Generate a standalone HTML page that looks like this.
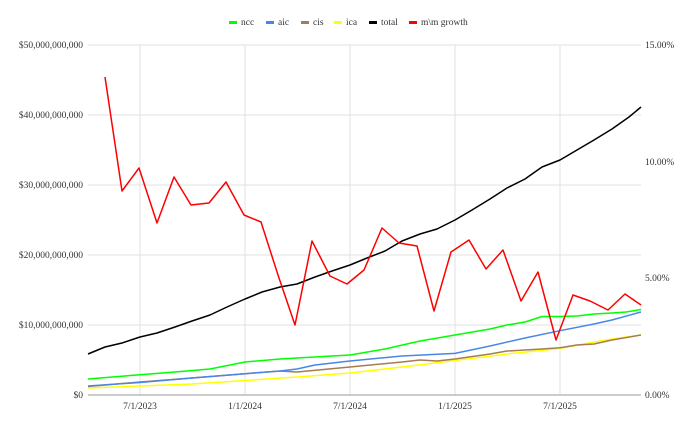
<!DOCTYPE html>
<html><head><style>
body{margin:0;background:#fff;}
svg{display:block;}
text{font-family:"Liberation Serif",serif;}
</style></head><body>
<svg width="690" height="426" viewBox="0 0 690 426">
<rect width="690" height="426" fill="#fff"/>
<g stroke="#e0e0e0" stroke-width="1">
<line x1="88" y1="45" x2="641" y2="45"/><line x1="88" y1="115" x2="641" y2="115"/>
<line x1="88" y1="185" x2="641" y2="185"/><line x1="88" y1="255" x2="641" y2="255"/>
<line x1="88" y1="325" x2="641" y2="325"/>
<line x1="140" y1="45" x2="140" y2="395"/><line x1="245" y1="45" x2="245" y2="395"/>
<line x1="350" y1="45" x2="350" y2="395"/><line x1="455" y1="45" x2="455" y2="395"/>
<line x1="560" y1="45" x2="560" y2="395"/>
</g>
<line x1="88" y1="395" x2="641" y2="395" stroke="#999" stroke-width="1"/>
<g font-size="9.5" fill="#333" text-anchor="end">
<text x="83" y="48">$50,000,000,000</text><text x="83" y="118">$40,000,000,000</text>
<text x="83" y="188">$30,000,000,000</text><text x="83" y="258">$20,000,000,000</text>
<text x="83" y="328">$10,000,000,000</text><text x="83" y="398">$0</text>
</g>
<g font-size="9.5" fill="#333">
<text x="645" y="48">15.00%</text><text x="645" y="165">10.00%</text>
<text x="645" y="281">5.00%</text><text x="645" y="398">0.00%</text>
</g>
<g font-size="9.5" fill="#333" text-anchor="middle">
<text x="140" y="409">7/1/2023</text><text x="245" y="409">1/1/2024</text>
<text x="350" y="409">7/1/2024</text><text x="455" y="409">1/1/2025</text>
<text x="560" y="409">7/1/2025</text>
</g>
<g font-size="9.5" fill="#333">
<rect x="229" y="21" width="8" height="3" fill="#00ff00"/><text x="241" y="25">ncc</text>
<rect x="266" y="21" width="8" height="3" fill="#4a86e8"/><text x="278" y="25">aic</text>
<rect x="301" y="21" width="8" height="3" fill="#a67c52"/><text x="313" y="25">cis</text>
<rect x="334" y="21" width="8" height="3" fill="#ffff00"/><text x="346" y="25">ica</text>
<rect x="369" y="21" width="8" height="3" fill="#000"/><text x="381" y="25">total</text>
<rect x="409" y="21" width="8" height="3" fill="#ff0000"/><text x="421" y="25">m\m growth</text>
</g>
<g fill="none" stroke-width="1.5" stroke-linejoin="round">
<polyline stroke="#ffff00" points="88,388 140,386 192,384 245,380.5 297,377 350,373 402,367 455,360.5 507,354 560,348.5 594,342 612,339 641,335"/>
<polyline stroke="#a67c52" points="88,386.5 140,382 192,378 245,373.7 280,371 297,372 350,367 402,362 420,360 437,361 455,359 490,354 507,351 542,349 560,347.7 577,345 594,344 612,340 641,335"/>
<polyline stroke="#4a86e8" points="88,386 140,382.5 192,378 245,373.7 280,371 297,369 315,365 350,361 402,356 455,353.4 490,346 525,338 560,330.7 594,324 612,320 641,312"/>
<polyline stroke="#00ff00" points="88,379 140,374.7 175,372 210,369 245,362 280,359 297,358 332,356 350,355 385,349 420,341 455,335 490,329 507,325 525,322 542,316.5 560,316.5 577,316 594,314 612,313 626,312 641,309.5"/>
<polyline stroke="#000" points="88,354 105,347 122,343 140,337 157,333 175,327 192,321 210,315 227,307 245,299 262,292 280,287 297,284 315,277 332,271 350,265 367,258 385,251 402,241 420,234 437,229 455,220 472,210 490,199 507,188 525,179 542,167 560,160 577,150 594,140 612,129 629,117 641,107"/>
<polyline stroke="#ff0000" points="105,77 122,191 139,168 157,223 174,177 191,205 209,203 226,182 244,215 261,222 278,275 295,325 312,241 330,276 347,284 364,270 382,228 399,243 417,246 434,311 451,252 469,240 486,269 503,250 521,301 538,272 556,340 573,295 590,301 608,310 625,294 641,305"/>
</g>
</svg>
</body></html>
